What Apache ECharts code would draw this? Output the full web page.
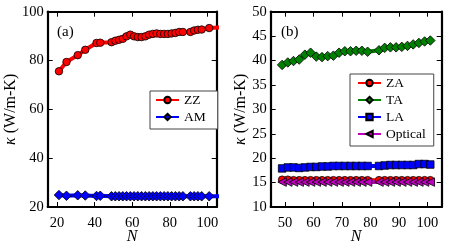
<!DOCTYPE html>
<html><head><meta charset="utf-8">
<script src="https://cdn.jsdelivr.net/npm/echarts@6/dist/echarts.min.js"></script>
<style>html,body{margin:0;padding:0;background:#fff}#c{width:463px;height:245px}</style>
</head><body><div id="c"></div>
<script>
// ---- data ----
const nLeft = [21,25,31,35,41,43,49,51,53,55,57,59,61,63,65,67,69,71,73,75,77,79,81,83,85,87,91,93,95,97,101,107];
const zz = [75.6,79.4,82.2,84.4,87.2,87.3,87.5,88.1,88.5,88.9,89.9,90.6,89.9,89.6,89.6,89.9,90.6,90.9,91.1,90.9,90.9,90.9,91.1,91.3,91.7,91.7,91.7,92.3,92.6,92.7,93.3,93.6];
const am = [24.9,24.6,24.8,24.7,24.5,24.6,24.4,24.4,24.4,24.4,24.4,24.4,24.4,24.4,24.4,24.4,24.4,24.4,24.4,24.4,24.4,24.4,24.4,24.4,24.4,24.4,24.4,24.4,24.4,24.4,24.4,24.4];
const nRight = [49,51,53,55,57,59,61,63,65,67,69,71,73,75,77,79,83,85,87,89,91,93,95,97,99,101];
const za = [15.6,15.6,15.5,15.5,15.5,15.5,15.5,15.5,15.5,15.5,15.5,15.5,15.5,15.5,15.5,15.5,15.5,15.5,15.5,15.5,15.5,15.5,15.5,15.5,15.5,15.5];
const ta = [39.1,39.6,39.9,40.2,41.2,41.6,40.8,40.7,40.9,41.0,41.6,41.9,41.9,42.0,42.0,41.8,42.1,42.6,42.7,42.7,42.8,43.0,43.3,43.6,43.9,44.1];
const la = [17.9,18.1,18.1,18.0,18.1,18.2,18.2,18.3,18.3,18.4,18.4,18.4,18.4,18.4,18.4,18.4,18.4,18.5,18.6,18.6,18.6,18.6,18.6,18.8,18.8,18.7];
const optical = [15.1,15.1,15.1,15.1,15.1,15.1,15.1,15.1,15.1,15.1,15.1,15.1,15.1,15.1,15.1,15.1,15.1,15.1,15.1,15.1,15.1,15.1,15.1,15.1,15.1,15.1];
const xTicksLeft = [20,40,60,80,100];
const yTicksLeft = [20,40,60,80,100];
const xTicksRight = [50,60,70,80,90,100];
const yTicksRight = [10,15,20,25,30,35,40,45,50];

// ---- chart ----
const F = 'Liberation Serif';
const chart = echarts.init(document.getElementById('c'));
const pair = (xs, ys) => xs.map((x, i) => [x, ys[i]]);

function axis(gi, min, max, ticks, pos, label, margin, name, nameGap) {
  return {
    type: 'value', gridIndex: gi, min, max, position: pos,
    axisLine: {show: true, onZero: false, lineStyle: {color: '#000', width: 2.2}},
    axisTick: {show: true, inside: true, length: 5, customValues: ticks, lineStyle: {color: '#000', width: 1}},
    axisLabel: {show: label, customValues: ticks, color: '#000', fontFamily: F, fontSize: 14.5, margin: margin || 6},
    splitLine: {show: false},
    name: name || '', nameLocation: 'middle', nameGap: nameGap || 0, nameMoveOverlap: false,
    nameTextStyle: {color: '#000', fontFamily: F, fontSize: 16,
      rich: {i: {fontStyle: 'italic', fontFamily: F, fontSize: 16, color: '#000'}}}
  };
}

function ser(name, xi, yi, xs, ys, color, symbol, size, rot) {
  return {
    name, type: 'line', xAxisIndex: xi, yAxisIndex: yi, data: pair(xs, ys),
    symbol, symbolSize: size, symbolRotate: rot || 0, showAllSymbol: true,
    lineStyle: {color, width: 4}, itemStyle: {color, borderColor: '#000', borderWidth: 0.8},
    clip: true, animation: false
  };
}

const legendBase = {
  orient: 'vertical', backgroundColor: '#fff', borderColor: '#444', borderWidth: 1,
  itemWidth: 23, itemHeight: 8, itemGap: 3,
  textStyle: {fontFamily: F, fontSize: 13.5, color: '#000', lineHeight: 14},
  selectedMode: false
};

chart.setOption({
  animation: false,
  title: [
    {text: '(a)', left: 52, top: 20, textStyle: {fontFamily: F, fontSize: 15, fontWeight: 'normal', color: '#000'}},
    {text: '(b)', left: 276, top: 20, textStyle: {fontFamily: F, fontSize: 15, fontWeight: 'normal', color: '#000'}}
  ],
  grid: [
    {left: 47.7, top: 11.7, width: 169, height: 195.3, show: false, containLabel: false, outerBoundsMode: 'none'},
    {left: 270.7, top: 11.7, width: 171, height: 195.3, show: false, containLabel: false, outerBoundsMode: 'none'}
  ],
  xAxis: [
    axis(0, 15, 105, xTicksLeft, 'bottom', true, 9, '{i|N}', 22),
    axis(0, 15, 105, xTicksLeft, 'top', false),
    axis(1, 45, 105, xTicksRight, 'bottom', true, 9, '{i|N}', 22),
    axis(1, 45, 105, xTicksRight, 'top', false)
  ],
  yAxis: [
    axis(0, 20, 100, yTicksLeft, 'left', true, 4, '{i|κ} (W/m-K)', 29),
    axis(0, 20, 100, yTicksLeft, 'right', false),
    axis(1, 10, 50, yTicksRight, 'left', true, 4, '{i|κ} (W/m-K)', 22),
    axis(1, 10, 50, yTicksRight, 'right', false)
  ],
  legend: [
    Object.assign({}, legendBase, {data: ['ZZ', 'AM'], left: 150, top: 91, padding: [2, 12, 5, 5]}),
    Object.assign({}, legendBase, {data: ['ZA', 'TA', 'LA', 'Optical'], left: 350, top: 74, padding: [2, 8, 5, 7]})
  ],
  series: [
    ser('ZZ', 0, 0, nLeft, zz, '#ff0000', 'circle', 7.5),
    ser('AM', 0, 0, nLeft, am, '#0000ff', 'diamond', 9.5),
    ser('ZA', 2, 2, nRight, za, '#ff0000', 'circle', 7.5),
    ser('TA', 2, 2, nRight, ta, '#008000', 'diamond', 9.5),
    ser('LA', 2, 2, nRight, la, '#0000ff', 'rect', 7.5),
    ser('Optical', 2, 2, nRight, optical, '#bf00bf', 'triangle', 8.5, 90)
  ]
});
</script></body></html>
